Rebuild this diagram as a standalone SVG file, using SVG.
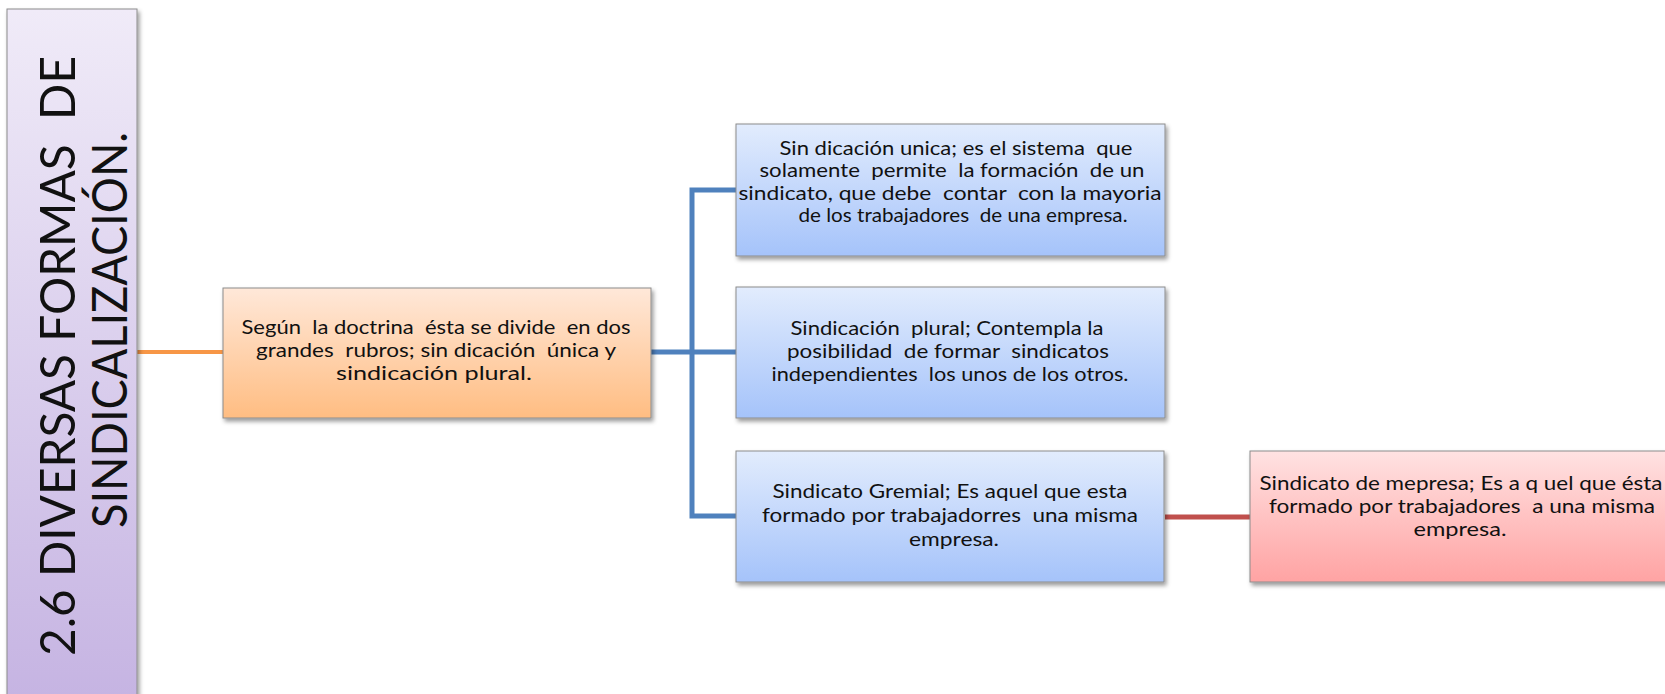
<svg xmlns="http://www.w3.org/2000/svg" width="1665" height="694" viewBox="0 0 1665 694">
<style>
.box{stroke:#8c8c8c;stroke-width:1;filter:url(#sh)}
.t{font-family:Lato,"Liberation Sans",Arial,sans-serif;font-size:20px;fill:#111;text-anchor:middle;white-space:pre}
.title{font-family:Lato,"Liberation Sans",Arial,sans-serif;font-weight:400;font-size:49px;fill:#111;text-anchor:middle;white-space:pre}
.c{fill:none;stroke-linejoin:miter}
</style>
<defs>
<filter id="sh" x="-10%" y="-10%" width="120%" height="130%">
<feDropShadow dx="2" dy="3" stdDeviation="2" flood-color="#000" flood-opacity="0.4"/>
</filter>
<linearGradient id="gP" x1="0" y1="0" x2="0" y2="1"><stop offset="0" stop-color="#F0EBF8"/><stop offset="1" stop-color="#C5B3E2"/></linearGradient>
<linearGradient id="gO" x1="0" y1="0" x2="0" y2="1"><stop offset="0" stop-color="#FFE8D9"/><stop offset="1" stop-color="#FFBD82"/></linearGradient>
<linearGradient id="gB" x1="0" y1="0" x2="0" y2="1"><stop offset="0" stop-color="#E2ECFD"/><stop offset="1" stop-color="#A5C3FA"/></linearGradient>
<linearGradient id="gR" x1="0" y1="0" x2="0" y2="1"><stop offset="0" stop-color="#FFE2E2"/><stop offset="1" stop-color="#FFA3A3"/></linearGradient>
</defs>
<rect width="1665" height="694" fill="#fff"/>
<g id="connectors">
<path class="c" d="M137 352 H223" stroke="#F79646" stroke-width="4"/>
<path class="c" d="M650 352 H736 M736 190 H692 V516 H736" stroke="#4F81BD" stroke-width="5"/>
<path class="c" d="M1165 517 H1250" stroke="#C0504D" stroke-width="5"/>
</g>
<g id="title">
<rect class="box" x="7" y="9" width="130" height="700" fill="url(#gP)"/>
<text class="title" transform="translate(75,356) rotate(-90)" x="0" y="0" textLength="600" lengthAdjust="spacingAndGlyphs">2.6 DIVERSAS FORMAS  DE</text>
<text class="title" transform="translate(127,330) rotate(-90)" x="0" y="0" textLength="396" lengthAdjust="spacingAndGlyphs">SINDICALIZACIÓN.</text>
</g>
<g id="doctrina">
<rect class="box" x="223" y="288" width="428" height="130" fill="url(#gO)"/>
<text class="t" x="436" y="334" textLength="389" lengthAdjust="spacingAndGlyphs">Según  la doctrina  ésta se divide  en dos</text>
<text class="t" x="436" y="357" textLength="360" lengthAdjust="spacingAndGlyphs">grandes  rubros; sin dicación  única y</text>
<text class="t" x="434" y="380" textLength="196" lengthAdjust="spacingAndGlyphs">sindicación plural.</text>
</g>
<g id="unica">
<rect class="box" x="736" y="124" width="429" height="132" fill="url(#gB)"/>
<text class="t" x="956" y="155" textLength="353" lengthAdjust="spacingAndGlyphs">Sin dicación unica; es el sistema  que</text>
<text class="t" x="952" y="177" textLength="385" lengthAdjust="spacingAndGlyphs">solamente  permite  la formación  de un</text>
<text class="t" x="950" y="200" textLength="423" lengthAdjust="spacingAndGlyphs">sindicato, que debe  contar  con la mayoria</text>
<text class="t" x="963" y="222" textLength="329" lengthAdjust="spacingAndGlyphs">de los trabajadores  de una empresa.</text>
</g>
<g id="plural">
<rect class="box" x="736" y="287" width="429" height="131" fill="url(#gB)"/>
<text class="t" x="947" y="335" textLength="313" lengthAdjust="spacingAndGlyphs">Sindicación  plural; Contempla la</text>
<text class="t" x="948" y="358" textLength="322" lengthAdjust="spacingAndGlyphs">posibilidad  de formar  sindicatos</text>
<text class="t" x="950" y="381" textLength="357" lengthAdjust="spacingAndGlyphs">independientes  los unos de los otros.</text>
</g>
<g id="gremial">
<rect class="box" x="736" y="451" width="428" height="131" fill="url(#gB)"/>
<text class="t" x="950" y="498" textLength="355" lengthAdjust="spacingAndGlyphs">Sindicato Gremial; Es aquel que esta</text>
<text class="t" x="950" y="522" textLength="376" lengthAdjust="spacingAndGlyphs">formado por trabajadorres  una misma</text>
<text class="t" x="954" y="546" textLength="90" lengthAdjust="spacingAndGlyphs">empresa.</text>
</g>
<g id="empresa">
<rect class="box" x="1250" y="451" width="436" height="131" fill="url(#gR)"/>
<text class="t" x="1461" y="490" textLength="403" lengthAdjust="spacingAndGlyphs">Sindicato de mepresa; Es a q uel que ésta</text>
<text class="t" x="1462" y="513" textLength="386" lengthAdjust="spacingAndGlyphs">formado por trabajadores  a una misma</text>
<text class="t" x="1460" y="536" textLength="93" lengthAdjust="spacingAndGlyphs">empresa.</text>
</g>
</svg>
